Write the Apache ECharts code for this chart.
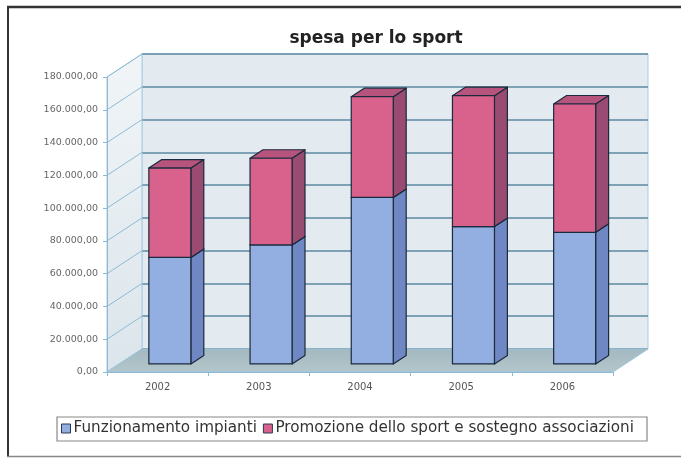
<!DOCTYPE html>
<html>
<head>
<meta charset="utf-8">
<script src="https://cdn.jsdelivr.net/npm/echarts@6/dist/echarts.min.js"></script>
<style>
  html, body { margin: 0; padding: 0; background: #ffffff; }
  #chart { width: 681px; height: 458px; }
</style>
</head>
<body>
<div id="chart"></div>
<script>
// ---- data ----
const titleText = 'spesa per lo sport';
const years = ['2002', '2003', '2004', '2005', '2006'];
const seriesNames = ['Funzionamento impianti', 'Promozione dello sport e sostegno associazioni'];
const funzionamento = [65000, 72600, 101600, 83800, 80300];
const promozione = [54500, 52900, 61500, 79900, 78300];
const yMin = 0;
const yMax = 180000;
const yStep = 20000;

// ---- layout / style ----
const FRONT = { left: 107, top: 77, width: 506, height: 295 };
const BACK = { left: 142, top: 54, width: 506, height: 295 };
const DX = BACK.left - FRONT.left;
const DY = BACK.top - FRONT.top;
const BAR_FRONT = 0.35;   // depth position of bar front face (fraction of depth)
const BAR_DEPTH = 0.37;   // bar depth (fraction of depth)
const BAR_WIDTH = 0.415;  // fraction of category band
const EDGE = '#1b2a3c';

function fmtIt(v) {
  const s = Math.round(v).toString().replace(/\B(?=(\d{3})+(?!\d))/g, '.');
  return s + ',00';
}

const tickValues = [];
for (let v = yMin; v <= yMax; v += yStep) tickValues.push(v);

function wallsRender(params, api) {
  const cs = params.coordSys;
  const y0 = api.coord([0, yMin])[1];
  const yT = api.coord([0, yMax])[1];
  const xL = cs.x, xR = cs.x + cs.width;
  const children = [];
  children.push({
    type: 'polygon',
    shape: { points: [[xL, y0], [xL + DX, y0 + DY], [xL + DX, yT + DY], [xL, yT]] },
    style: {
      fill: { type: 'linear', x: 0, y: 0, x2: 1, y2: 1, colorStops: [
        { offset: 0, color: '#f1f5f8' }, { offset: 1, color: '#dbe5eb' }] },
      stroke: '#a6cbe0', lineWidth: 1
    }
  });
  tickValues.forEach(function (v) {
    const yv = api.coord([0, v])[1];
    children.push({
      type: 'line',
      shape: { x1: xL, y1: yv, x2: xL + DX, y2: yv + DY },
      style: { stroke: '#8fbad2', lineWidth: 1 }
    });
  });
  children.push({
    type: 'polygon',
    shape: { points: [[xL, y0], [xR, y0], [xR + DX, y0 + DY], [xL + DX, y0 + DY]] },
    style: {
      fill: { type: 'linear', x: 0, y: 0, x2: 0, y2: 1, colorStops: [
        { offset: 0, color: '#a3b8bf' }, { offset: 1, color: '#b3c6cc' }] },
      stroke: '#9cc6dc', lineWidth: 1
    }
  });
  return { type: 'group', children: children };
}

function barRender(frontColor, sideColor, topColor) {
  return function (params, api) {
    const cat = api.value(0), base = api.value(1), val = api.value(2);
    const pB = api.coord([cat, base]);
    const pT = api.coord([cat, base + val]);
    const band = api.size([1, 0])[0];
    const w = band * BAR_WIDTH;
    const ox = BAR_FRONT * DX, oy = BAR_FRONT * DY;
    const bx = BAR_DEPTH * DX, by = BAR_DEPTH * DY;
    const x0 = pB[0] - w / 2 + ox;
    const x1 = x0 + w;
    const yb = pB[1] + oy, yt = pT[1] + oy;
    const st = function (c) { return { fill: c, stroke: EDGE, lineWidth: 1.2, lineJoin: 'round' }; };
    return {
      type: 'group',
      children: [
        { type: 'polygon', shape: { points: [[x1, yb], [x1 + bx, yb + by], [x1 + bx, yt + by], [x1, yt]] }, style: st(sideColor) },
        { type: 'polygon', shape: { points: [[x0, yt], [x1, yt], [x1 + bx, yt + by], [x0 + bx, yt + by]] }, style: st(topColor) },
        { type: 'rect', shape: { x: x0, y: yt, width: w, height: yb - yt }, style: st(frontColor) }
      ]
    };
  };
}

const blueData = years.map(function (y, i) { return [i, 0, funzionamento[i]]; });
const pinkData = years.map(function (y, i) { return [i, funzionamento[i], promozione[i]]; });

const chart = echarts.init(document.getElementById('chart'), null, { renderer: 'canvas' });
chart.setOption({
  animation: false,
  backgroundColor: '#ffffff',
  title: {
    text: titleText,
    left: 371, top: 25, textAlign: 'center',
    textStyle: { fontFamily: 'DejaVu Sans', fontWeight: 'bold', fontSize: 17, color: '#222' }
  },
  legend: {
    data: seriesNames,
    left: 61, top: 421, padding: 0, itemGap: 6, z: 10,
    icon: 'rect', itemWidth: 9, itemHeight: 9,
    itemStyle: { borderColor: '#2a3a55', borderWidth: 1 },
    textStyle: { fontFamily: 'DejaVu Sans', fontSize: 15.2, color: '#333', padding: [0, 0, 0, -2] }
  },
  grid: [
    { left: FRONT.left, top: FRONT.top, width: FRONT.width, height: FRONT.height, show: false },
    { left: BACK.left, top: BACK.top, width: BACK.width, height: BACK.height, show: true,
      backgroundColor: '#e3ebf0', borderColor: '#a9cde0', borderWidth: 1 }
  ],
  xAxis: [
    { type: 'category', gridIndex: 0, data: years, z: 5,
      axisLine: { show: true, lineStyle: { color: '#8cbad4', width: 1 } },
      axisTick: { show: true, length: 4, lineStyle: { color: '#8cbad4' } },
      axisLabel: { fontFamily: 'DejaVu Sans', fontSize: 10, color: '#555', margin: 10 },
      splitLine: { show: false } },
    { type: 'category', gridIndex: 1, data: years, show: false }
  ],
  yAxis: [
    { type: 'value', gridIndex: 0, min: yMin, max: yMax, interval: yStep, z: 5,
      axisLine: { show: true, lineStyle: { color: '#8cbad4', width: 1 } },
      axisTick: { show: true, length: 4, lineStyle: { color: '#8cbad4' } },
      axisLabel: { fontFamily: 'DejaVu Sans', fontSize: 9.5, color: '#666', margin: 9, formatter: fmtIt },
      splitLine: { show: false } },
    { type: 'value', gridIndex: 1, min: yMin, max: yMax, interval: yStep,
      axisLine: { show: false }, axisTick: { show: false }, axisLabel: { show: false },
      splitLine: { show: true, lineStyle: { color: '#5d8aa2', width: 1.5 } } }
  ],
  graphic: [
    { type: 'rect', z: 0, shape: { x: 57, y: 417, width: 590, height: 24 },
      style: { fill: '#ffffff', stroke: '#888', lineWidth: 1.2 } },
    { type: 'line', z: 0, shape: { x1: 7, y1: 7, x2: 681, y2: 7 }, style: { stroke: '#333', lineWidth: 2.5 } },
    { type: 'line', z: 0, shape: { x1: 8, y1: 6, x2: 8, y2: 457 }, style: { stroke: '#333', lineWidth: 2 } },
    { type: 'line', z: 0, shape: { x1: 7, y1: 456.5, x2: 681, y2: 456.5 }, style: { stroke: '#888', lineWidth: 1.5 } }
  ],
  series: [
    { type: 'custom', name: 'walls', xAxisIndex: 0, yAxisIndex: 0, z: 1, clip: false, silent: true,
      data: [[0, 0]], renderItem: wallsRender },
    { type: 'custom', name: seriesNames[0], xAxisIndex: 0, yAxisIndex: 0, z: 3, clip: false,
      itemStyle: { color: '#93aee0' },
      data: blueData, renderItem: barRender('#93aee0', '#6f88c3', '#7f98d0') },
    { type: 'custom', name: seriesNames[1], xAxisIndex: 0, yAxisIndex: 0, z: 3, clip: false,
      itemStyle: { color: '#d8628c' },
      data: pinkData, renderItem: barRender('#d8628c', '#9a4b71', '#b6547d') }
  ]
});
</script>
</body>
</html>
